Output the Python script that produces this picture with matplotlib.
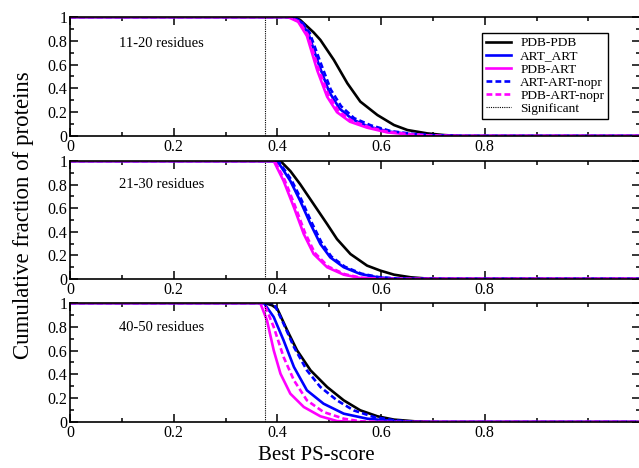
import matplotlib
matplotlib.use("Agg")
import matplotlib.pyplot as plt
import numpy as np

plt.rcParams['font.family'] = ['Liberation Serif', 'DejaVu Serif']

# Data (best PS-score vs cumulative fraction)
panel_titles = ['11-20 residues', '21-30 residues', '40-50 residues']
series_names = ['PDB-PDB', 'ART_ART', 'PDB-ART', 'ART-ART-nopr', 'PDB-ART-nopr']
significant = 0.377

# panel 1: 11-20 residues
p1_pdb_pdb_x = [0, 0.432, 0.444, 0.47, 0.483, 0.509, 0.535, 0.56, 0.593, 0.625, 0.651, 0.689, 0.721, 0.754, 1.1]
p1_pdb_pdb_y = [1, 1, 0.975, 0.87, 0.807, 0.639, 0.443, 0.289, 0.176, 0.092, 0.05, 0.022, 0.008, 0, 0]
p1_art_art_x = [0, 0.425, 0.445, 0.46, 0.48, 0.5, 0.52, 0.545, 0.575, 0.615, 0.66, 0.70, 0.75, 1.1]
p1_art_art_y = [1, 1, 0.96, 0.86, 0.6, 0.37, 0.23, 0.14, 0.08, 0.037, 0.014, 0.004, 0, 0]
p1_pdb_art_x = [0, 0.42, 0.44, 0.457, 0.477, 0.496, 0.515, 0.54, 0.573, 0.612, 0.657, 0.70, 0.75, 1.1]
p1_pdb_art_y = [1, 1, 0.96, 0.84, 0.55, 0.33, 0.2, 0.12, 0.07, 0.03, 0.012, 0.003, 0, 0]
p1_art_nopr_x = [0, 0.428, 0.447, 0.462, 0.483, 0.503, 0.523, 0.548, 0.58, 0.62, 0.665, 0.71, 0.76, 1.1]
p1_art_nopr_y = [1, 1, 0.96, 0.87, 0.62, 0.39, 0.25, 0.15, 0.09, 0.04, 0.016, 0.004, 0, 0]
p1_pdb_nopr_x = [0, 0.422, 0.442, 0.459, 0.479, 0.498, 0.518, 0.543, 0.576, 0.615, 0.66, 0.70, 0.75, 1.1]
p1_pdb_nopr_y = [1, 1, 0.96, 0.85, 0.57, 0.35, 0.21, 0.13, 0.075, 0.033, 0.013, 0.003, 0, 0]

# panel 2: 21-30 residues
p2_pdb_pdb_x = [0, 0.406, 0.425, 0.444, 0.47, 0.496, 0.515, 0.541, 0.573, 0.599, 0.625, 0.657, 0.689, 0.72, 1.1]
p2_pdb_pdb_y = [1, 1, 0.915, 0.803, 0.634, 0.465, 0.338, 0.211, 0.113, 0.07, 0.036, 0.014, 0.003, 0, 0]
p2_art_art_x = [0, 0.40, 0.425, 0.444, 0.464, 0.483, 0.502, 0.528, 0.56, 0.593, 0.625, 0.66, 1.1]
p2_art_art_y = [1, 1, 0.831, 0.662, 0.465, 0.296, 0.183, 0.099, 0.042, 0.014, 0.003, 0, 0]
p2_pdb_art_x = [0, 0.393, 0.412, 0.432, 0.451, 0.47, 0.496, 0.528, 0.56, 0.60, 1.1]
p2_pdb_art_y = [1, 1, 0.831, 0.606, 0.38, 0.211, 0.099, 0.036, 0.008, 0, 0]
p2_art_nopr_x = [0, 0.402, 0.427, 0.446, 0.466, 0.485, 0.504, 0.53, 0.562, 0.595, 0.627, 0.66, 1.1]
p2_art_nopr_y = [1, 1, 0.84, 0.675, 0.48, 0.31, 0.19, 0.104, 0.045, 0.016, 0.004, 0, 0]
p2_pdb_nopr_x = [0, 0.395, 0.414, 0.434, 0.453, 0.472, 0.498, 0.53, 0.562, 0.60, 1.1]
p2_pdb_nopr_y = [1, 1, 0.84, 0.62, 0.395, 0.222, 0.105, 0.04, 0.01, 0, 0]

# panel 3: 40-50 residues
p3_pdb_pdb_x = [0, 0.376, 0.39, 0.40, 0.419, 0.438, 0.464, 0.496, 0.528, 0.56, 0.593, 0.625, 0.664, 0.70, 1.1]
p3_pdb_pdb_y = [1, 1, 0.98, 0.95, 0.77, 0.602, 0.434, 0.294, 0.182, 0.098, 0.048, 0.02, 0.006, 0, 0]
p3_art_art_x = [0, 0.374, 0.393, 0.412, 0.432, 0.457, 0.489, 0.528, 0.573, 0.625, 0.67, 1.1]
p3_art_art_y = [1, 1, 0.882, 0.686, 0.462, 0.266, 0.154, 0.07, 0.028, 0.008, 0, 0]
p3_pdb_art_x = [0, 0.367, 0.38, 0.393, 0.406, 0.425, 0.451, 0.483, 0.515, 0.55, 1.1]
p3_pdb_art_y = [1, 1, 0.854, 0.602, 0.406, 0.238, 0.126, 0.048, 0.008, 0, 0]
p3_art_nopr_x = [0, 0.393, 0.412, 0.432, 0.457, 0.483, 0.515, 0.547, 0.586, 0.625, 0.67, 1.1]
p3_art_nopr_y = [1, 1, 0.826, 0.63, 0.434, 0.294, 0.182, 0.098, 0.042, 0.014, 0, 0]
p3_pdb_nopr_x = [0, 0.374, 0.393, 0.412, 0.432, 0.457, 0.489, 0.528, 0.56, 0.60, 1.1]
p3_pdb_nopr_y = [1, 1, 0.798, 0.546, 0.35, 0.182, 0.084, 0.028, 0.006, 0, 0]

panels = [
    [(p1_pdb_pdb_x, p1_pdb_pdb_y), (p1_art_art_x, p1_art_art_y), (p1_pdb_art_x, p1_pdb_art_y),
     (p1_art_nopr_x, p1_art_nopr_y), (p1_pdb_nopr_x, p1_pdb_nopr_y)],
    [(p2_pdb_pdb_x, p2_pdb_pdb_y), (p2_art_art_x, p2_art_art_y), (p2_pdb_art_x, p2_pdb_art_y),
     (p2_art_nopr_x, p2_art_nopr_y), (p2_pdb_nopr_x, p2_pdb_nopr_y)],
    [(p3_pdb_pdb_x, p3_pdb_pdb_y), (p3_art_art_x, p3_art_art_y), (p3_pdb_art_x, p3_pdb_art_y),
     (p3_art_nopr_x, p3_art_nopr_y), (p3_pdb_nopr_x, p3_pdb_nopr_y)],
]

colors = ['black', '#0000ff', '#ff00ff', '#0000ff', '#ff00ff']
styles = ['-', '-', '-', (0, (2.2, 1.2)), (0, (2.2, 1.2))]

fig = plt.figure(figsize=(6.39, 4.68), dpi=100)

# axes positions (left, bottom, width, height) in figure fraction
ax_rects = [
    (0.1095, 0.7094, 0.8925, 0.2543),
    (0.1095, 0.4040, 0.8925, 0.2520),
    (0.1095, 0.0983, 0.8925, 0.2543),
]
label_y = [0.78, 0.80, 0.79]

for i, rect in enumerate(ax_rects):
    ax = fig.add_axes(rect)
    for (xs, ys), c, ls, name in zip(panels[i], colors, styles, series_names):
        ax.plot(xs, ys, color=c, ls=ls, lw=1.9, label=name)
    ax.axvline(significant, color='black', ls=(0, (1, 1)), lw=0.8, label='Significant')

    ax.set_xlim(0, 1.1)
    ax.set_ylim(0, 1)
    ax.set_xticks([0, 0.2, 0.4, 0.6, 0.8])
    ax.set_xticklabels(['0', '0.2', '0.4', '0.6', '0.8'])
    ax.set_xticks([0.1, 0.3, 0.5, 0.7, 0.9, 1.0], minor=True)
    ax.set_yticks([0, 0.2, 0.4, 0.6, 0.8, 1.0])
    ax.set_yticklabels(['0', '0.2', '0.4', '0.6', '0.8', '1'])
    ax.set_yticks([0.1, 0.3, 0.5, 0.7, 0.9], minor=True)
    ax.tick_params(which='both', direction='in', top=True, right=True,
                   labelsize=11.5, width=1.1, pad=2)
    ax.tick_params(which='major', length=6)
    ax.tick_params(which='minor', length=3)
    for sp in ax.spines.values():
        sp.set_linewidth(1.2)

    ax.text(0.095, label_y[i], panel_titles[i], fontsize=10.5, va='center', ha='left')

    if i == 0:
        leg = ax.legend(loc='upper right', bbox_to_anchor=(0.944, 0.866),
                        fontsize=9.6, frameon=True, fancybox=False,
                        edgecolor='black', framealpha=1, handlelength=1.9,
                        handletextpad=0.7, labelspacing=0.06,
                        borderpad=0.3, borderaxespad=0)
        leg.get_frame().set_linewidth(1.0)

fig.text(0.036, 0.54, 'Cumulative fraction of proteins', rotation=90,
         fontsize=16.5, ha='center', va='center')
fig.text(0.4945, 0.027, 'Best PS-score', fontsize=15, ha='center', va='center')

fig.savefig('out.png', dpi=100)
